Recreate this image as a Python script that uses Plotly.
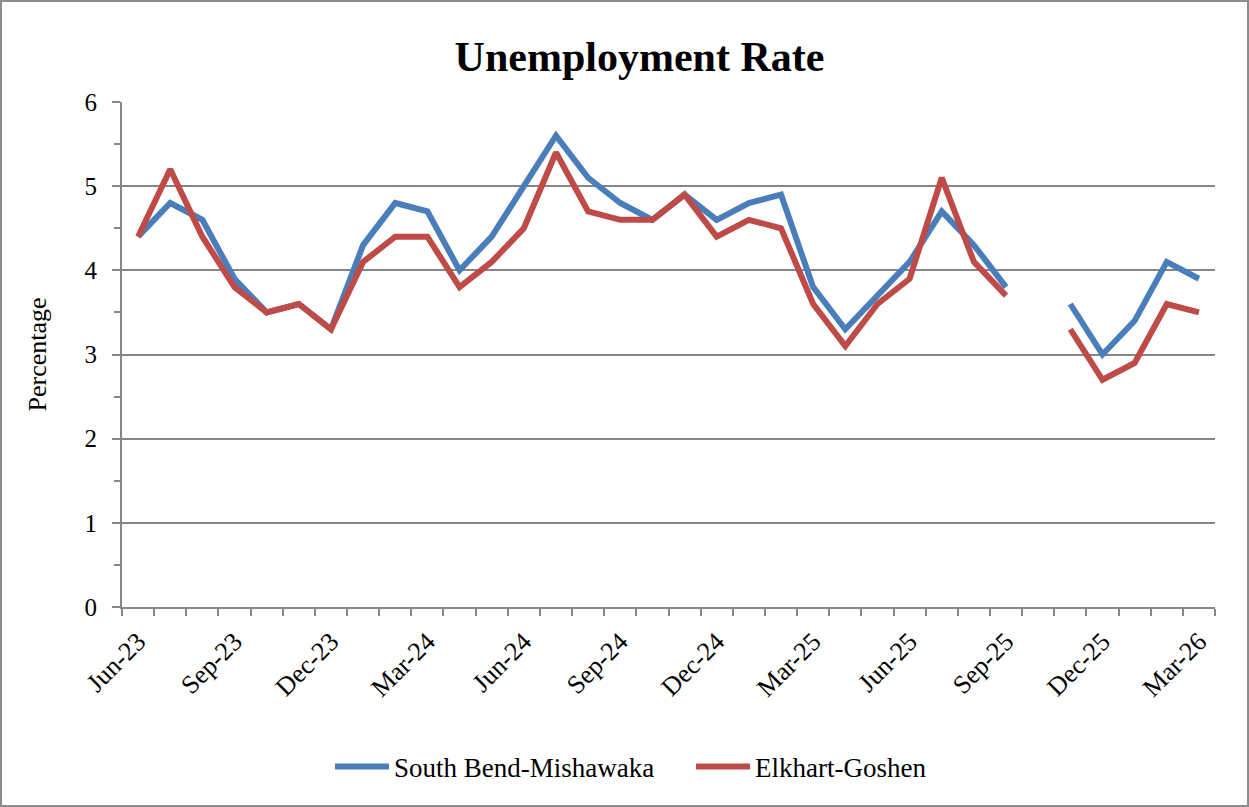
import plotly.graph_objects as go

# monthly categories, Jun-23 .. Mar-26 (Oct-25 missing)
months = ['Jun-23', 'Jul-23', 'Aug-23', 'Sep-23', 'Oct-23', 'Nov-23', 'Dec-23',
          'Jan-24', 'Feb-24', 'Mar-24', 'Apr-24', 'May-24', 'Jun-24', 'Jul-24',
          'Aug-24', 'Sep-24', 'Oct-24', 'Nov-24', 'Dec-24', 'Jan-25', 'Feb-25',
          'Mar-25', 'Apr-25', 'May-25', 'Jun-25', 'Jul-25', 'Aug-25', 'Sep-25',
          'Oct-25', 'Nov-25', 'Dec-25', 'Jan-26', 'Feb-26', 'Mar-26']

south_bend = [4.4, 4.8, 4.6, 3.9, 3.5, 3.6, 3.3,
              4.3, 4.8, 4.7, 4.0, 4.4, 5.0, 5.6,
              5.1, 4.8, 4.6, 4.9, 4.6, 4.8, 4.9,
              3.8, 3.3, 3.7, 4.1, 4.7, 4.3, 3.8,
              None, 3.6, 3.0, 3.4, 4.1, 3.9]

elkhart = [4.4, 5.2, 4.4, 3.8, 3.5, 3.6, 3.3,
           4.1, 4.4, 4.4, 3.8, 4.1, 4.5, 5.4,
           4.7, 4.6, 4.6, 4.9, 4.4, 4.6, 4.5,
           3.6, 3.1, 3.6, 3.9, 5.1, 4.1, 3.7,
           None, 3.3, 2.7, 2.9, 3.6, 3.5]

label_months = months[::3]

FONT = "Liberation Serif, Times New Roman, serif"
GRID = "#868686"

x = list(range(len(months)))
label_pos = x[::3]

fig = go.Figure()
fig.add_trace(go.Scatter(x=x, y=south_bend, mode='lines', name='South Bend-Mishawaka',
                         line=dict(color='#4A7EBB', width=6)))
fig.add_trace(go.Scatter(x=x, y=elkhart, mode='lines', name='Elkhart-Goshen',
                         line=dict(color='#BE4B48', width=6)))

# plot area in pixels: left 122, right 1215, top 102, bottom 607
W, H = 1249, 807
L, R, T, B = 122, 34, 102, 200
pw, ph = W - L - R, H - T - B

fig.update_layout(
    width=W, height=H,
    margin=dict(l=L, r=R, t=T, b=B),
    paper_bgcolor='white', plot_bgcolor='white',
    font=dict(family=FONT, size=24, color='black'),
    title=dict(text='<b>Unemployment Rate</b>', x=0.512, xanchor='center',
               y=1 - 56 / H, yanchor='middle', yref='container',
               font=dict(size=42, family=FONT)),
    legend=dict(orientation='h', x=(330 - L) / pw, xanchor='left',
                y=(607 - 767) / ph, yanchor='middle',
                font=dict(size=27), itemwidth=54,
                entrywidth=292, entrywidthmode='pixels'),
    showlegend=True,
)

fig.update_xaxes(
    range=[-0.5, len(months) - 0.5],
    tickmode='array', tickvals=label_pos, ticktext=label_months,
    tickangle=-45, ticks='', showgrid=False,
    showline=True, linecolor=GRID, linewidth=2,
    minor=dict(ticks='outside', tick0=-0.5, dtick=1, ticklen=7,
               tickcolor=GRID, tickwidth=2, showgrid=False),
    tickfont=dict(size=26), ticklabelstandoff=7,
    zeroline=False,
)
fig.update_yaxes(
    range=[0, 6], dtick=1, tick0=0,
    ticks='outside', ticklen=8, tickcolor=GRID, tickwidth=2,
    showgrid=True, gridcolor=GRID, gridwidth=2,
    showline=True, linecolor=GRID, linewidth=2,
    minor=dict(ticks='outside', dtick=0.5, ticklen=6, tickcolor=GRID,
               tickwidth=2, showgrid=False),
    title=dict(text='Percentage', font=dict(size=26), standoff=30),
    tickfont=dict(size=25), ticklabelstandoff=10,
    zeroline=False,
)

# outer chart border
fig.add_shape(type='rect', xref='paper', yref='paper',
              x0=(1 - L) / pw, x1=(W - L - 1) / pw,
              y0=-(B - 1) / ph, y1=(H - B - 1) / ph,
              line=dict(color='#8c8c8c', width=2), fillcolor='rgba(0,0,0,0)')

fig.write_html("out.html", config={'displayModeBar': False},
               post_script="document.body.style.margin='0';")
